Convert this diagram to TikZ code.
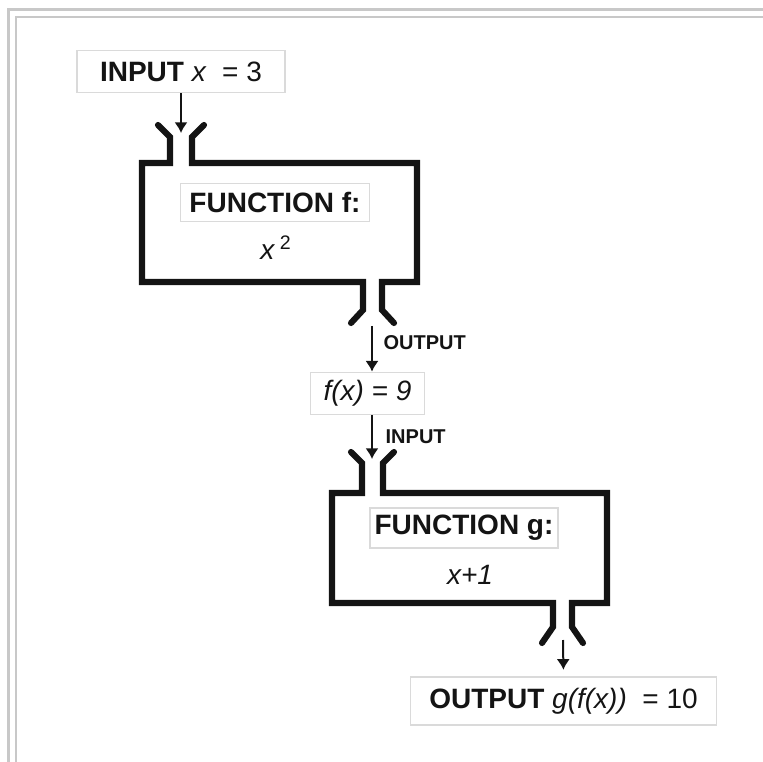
\documentclass[tikz,border=0pt]{standalone}
\usepackage{fontspec}
\setmainfont{Liberation Sans}
\usetikzlibrary{arrows.meta}
\definecolor{framegray}{HTML}{C8C8C8}
\definecolor{labelgray}{HTML}{DADADA}
\definecolor{inkblack}{HTML}{141414}

\begin{document}
\begin{tikzpicture}[
  x=0.75pt,y=-0.75pt,
  font=\fontsize{21}{25}\selectfont,
  tag/.style={draw=labelgray,fill=white,line width=0.8pt,inner sep=0pt,
              align=center,text=inkblack},
  note/.style={font=\fontsize{15}{18}\selectfont\bfseries,text=inkblack,
               anchor=west,inner sep=0pt},
  machine/.style={draw=inkblack,line width=4.6pt,line join=miter,line cap=round},
  feed/.style={-{Latex[length=8pt,width=10pt]},draw=inkblack,line width=1.5pt},
  rail/.style={draw=framegray}
]
\useasboundingbox (0,0) rectangle (763,762);

%------ page frame -----------------------------------------------------------
\draw[rail,line width=2.4pt] (8.5,762) -- (8.5,9.5) -- (763,9.5);
\draw[rail,line width=1.6pt] (16,762) -- (16,17) -- (763,17);

%------ input ----------------------------------------------------------------
\node[tag,minimum width=156pt,minimum height=32pt] (in) at (181,71.5)
      {\textbf{INPUT} \textit{x}~ = 3};
\coordinate (fin) at (181,133);
\draw[feed] (in.south) -- (fin);

%------ function f -----------------------------------------------------------
\draw[machine] (158,125) -- (170,137) -- (170,163) -- (142,163) -- (142,282)
      -- (363,282) -- (363,310) -- (351,323);
\draw[machine] (394,323) -- (382,310) -- (382,282) -- (417,282) -- (417,163)
      -- (192,163) -- (192,137) -- (204,125);
\node[tag,minimum width=142pt,minimum height=29pt] (fname) at (275,202.5)
      {\textbf{FUNCTION f:}};
\node[text=inkblack] (frule) at (276,248) {\textit{x}\,\textsuperscript{2}};

%------ middle value ---------------------------------------------------------
\coordinate (fout) at (372,326);
\node[tag,minimum width=86pt,minimum height=32pt] (fx) at (367.5,393.5)
      {\textit{f(x) = 9}};
\draw[feed] (fout) -- (fout |- fx.north) node[note,pos=0.37,xshift=8pt]{OUTPUT};
\coordinate (gin) at (372,459);
\draw[feed] (fx.south -| gin) -- (gin) node[note,pos=0.48,xshift=9.5pt]{INPUT};

%------ function g -----------------------------------------------------------
\draw[machine] (351,452) -- (362,463) -- (362,493) -- (332,493) -- (332,603)
      -- (553,603) -- (553,627) -- (542,643);
\draw[machine] (583,643) -- (572,627) -- (572,603) -- (607,603) -- (607,493)
      -- (383,493) -- (383,463) -- (394,452);
\node[tag,minimum width=141pt,minimum height=30pt] (gname) at (464,528)
      {\textbf{FUNCTION g:}};
\node[text=inkblack] (grule) at (470,575) {\textit{x+1}};

%------ output ---------------------------------------------------------------
\coordinate (gout) at (563,640);
\node[tag,minimum width=230pt,minimum height=36pt] (out) at (563.5,701)
      {\textbf{OUTPUT} \textit{g(f(x))}~ = 10};
\draw[feed,shorten >=5pt] (gout) -- (out.north);
\end{tikzpicture}
\end{document}
